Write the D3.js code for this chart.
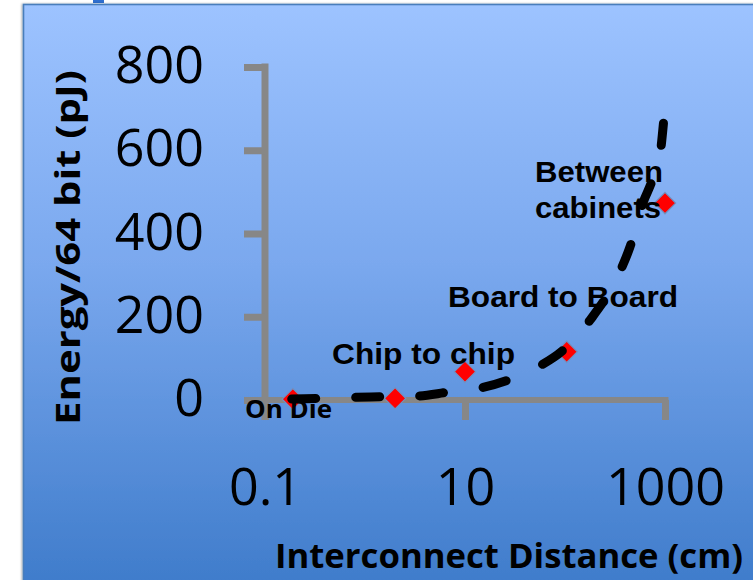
<!DOCTYPE html>
<html>
<head>
<meta charset="utf-8">
<script src="https://cdn.jsdelivr.net/npm/d3@7"></script>
<style>
  html, body { margin: 0; padding: 0; background: #ffffff; }
  svg { display: block; }
</style>
</head>
<body>
<svg id="chart" width="753" height="580"></svg>
<script>
// ---- data ----
const categories = ["On Die", "Chip to chip", "Board to Board", "Between cabinets"];
const distances = [0.19, 2, 10, 104, 1000];          // cm
const energies  = [2, 4, 68, 116, 473];               // pJ per 64 bit
// trend line (distance cm, energy pJ)
const trendX = [0.185, 0.38, 0.83, 1.58, 3.4, 6.6, 14.7, 27, 56, 96, 178, 341, 447, 607, 736, 891, 965];
const trendY = [2.4, 4, 6.5, 8, 9.6, 18.5, 29.5, 48, 82, 120, 192, 300, 368, 476, 524, 588, 665];
const yTicks = [0, 200, 400, 600, 800];
const xTicks = [0.1, 10, 1000];
const xTickLabels = ["0.1", "10", "1000"];
const yTitle = "Energy/64 bit (pJ)";
const xTitle = "Interconnect Distance (cm)";

const svg = d3.select("#chart");
const W = 753, H = 580;

// background panel with gradient
const defs = svg.append("defs");
const grad = defs.append("linearGradient").attr("id", "bg").attr("x1", 0).attr("y1", 0).attr("x2", 0).attr("y2", 1);
grad.append("stop").attr("offset", "0%").attr("stop-color", "#9dc3ff");
grad.append("stop").attr("offset", "45%").attr("stop-color", "#7aa8ee");
grad.append("stop").attr("offset", "100%").attr("stop-color", "#3f7ccb");
const shadow = defs.append("filter").attr("id", "sh").attr("x", "-5%").attr("y", "-5%").attr("width", "110%").attr("height", "110%");
shadow.append("feDropShadow").attr("dx", -1).attr("dy", 0).attr("stdDeviation", 1.2).attr("flood-color", "#000").attr("flood-opacity", 0.35);

svg.append("rect").attr("x", 93).attr("y", -2).attr("width", 11).attr("height", 5).attr("fill", "#2f6fcf");
svg.append("rect").attr("x", 23.5).attr("y", 4.5).attr("width", W).attr("height", H)
  .attr("fill", "url(#bg)").attr("stroke", "#4a7ebb").attr("stroke-width", 1.6).attr("filter", "url(#sh)");

// scales
const x = d3.scaleLog().domain([0.1, 1000]).range([265, 665]);
const y = d3.scaleLinear().domain([0, 800]).range([400, 67]);

const axisColor = "#878787";

// y axis
const yAxis = svg.append("g").attr("transform", "translate(265,0)")
  .call(d3.axisLeft(y).tickValues(yTicks).tickSize(21).tickPadding(40).tickFormat(d3.format("d")));
yAxis.select(".domain").attr("stroke", axisColor).attr("stroke-width", 7).attr("d", `M0,${y(800)-3.5}V${y(0)+20}`);
yAxis.selectAll(".tick line").attr("stroke", axisColor).attr("stroke-width", 7);
yAxis.selectAll(".tick text").attr("fill", "#000").attr("font-family", "'Open Sans', sans-serif")
  .attr("font-size", 52).attr("dy", "0.30em").attr("x", -61);

// x axis
const xAxis = svg.append("g").attr("transform", "translate(0,400)")
  .call(d3.axisBottom(x).tickValues(xTicks).tickSize(20).tickPadding(0).tickFormat((d, i) => xTickLabels[i]));
xAxis.select(".domain").attr("stroke", axisColor).attr("stroke-width", 6).attr("d", `M245,0H${x(1000)+3.5}`);
xAxis.selectAll(".tick line").attr("stroke", axisColor).attr("stroke-width", 7);
xAxis.selectAll(".tick text").attr("fill", "#000").attr("font-family", "'Open Sans', sans-serif")
  .attr("font-size", 52).attr("y", 105).attr("dy", 0);

// axis titles
svg.append("text").attr("transform", `translate(80,247.5) rotate(-90)`).attr("text-anchor", "middle")
  .attr("font-family", "'Open Sans', sans-serif").attr("font-weight", "bold").attr("font-size", 34)
  .attr("textLength", 355).attr("lengthAdjust", "spacingAndGlyphs")
  .attr("fill", "#000").text(yTitle);
svg.append("text").attr("x", 509).attr("y", 568).attr("text-anchor", "middle")
  .attr("font-family", "'Open Sans', sans-serif").attr("font-weight", "bold").attr("font-size", 34)
  .attr("textLength", 468).attr("lengthAdjust", "spacingAndGlyphs")
  .attr("fill", "#000").text(xTitle);

// data points (diamonds)
const pts = distances.map((d, i) => ({ d, e: energies[i] }));
svg.append("g").selectAll("path").data(pts).join("path")
  .attr("d", d3.symbol().type(d3.symbolDiamond2).size(290))
  .attr("transform", p => `translate(${x(p.d)},${y(p.e)})`)
  .attr("fill", "#ff0000").attr("stroke", "#6f93c4").attr("stroke-width", 1.2);

// labels
const labelFont = "'Liberation Sans', Arial, sans-serif";
svg.append("text").attr("x", 245).attr("y", 418).attr("font-family", "'Open Sans', sans-serif")
  .attr("font-weight", "bold").attr("font-size", 25).attr("textLength", 87).attr("lengthAdjust", "spacingAndGlyphs")
  .attr("fill", "#000").text(categories[0]);
svg.append("text").attr("x", 332).attr("y", 364).attr("font-family", labelFont)
  .attr("font-weight", "bold").attr("font-size", 30).attr("textLength", 183).attr("lengthAdjust", "spacingAndGlyphs")
  .attr("fill", "#000").text(categories[1]);
svg.append("text").attr("x", 448).attr("y", 307).attr("font-family", labelFont)
  .attr("font-weight", "bold").attr("font-size", 30).attr("textLength", 230).attr("lengthAdjust", "spacingAndGlyphs")
  .attr("fill", "#000").text(categories[2]);
const bc = categories[3].split(" ");
svg.append("text").attr("x", 535).attr("y", 182).attr("font-family", labelFont)
  .attr("font-weight", "bold").attr("font-size", 30).attr("textLength", 128).attr("lengthAdjust", "spacingAndGlyphs")
  .attr("fill", "#000").text(bc[0]);
svg.append("text").attr("x", 535).attr("y", 218).attr("font-family", labelFont)
  .attr("font-weight", "bold").attr("font-size", 30).attr("textLength", 126).attr("lengthAdjust", "spacingAndGlyphs")
  .attr("fill", "#000").text(bc[1]);

// dashed trend line (drawn on top)
const line = d3.line().x(d => x(d[0])).y(d => y(d[1])).curve(d3.curveMonotoneX);
svg.append("path").datum(trendX.map((v, i) => [v, trendY[i]]))
  .attr("d", line).attr("fill", "none").attr("stroke", "#000").attr("stroke-width", 9)
  .attr("stroke-linecap", "round").attr("stroke-dasharray", "24 40");
</script>
</body>
</html>
